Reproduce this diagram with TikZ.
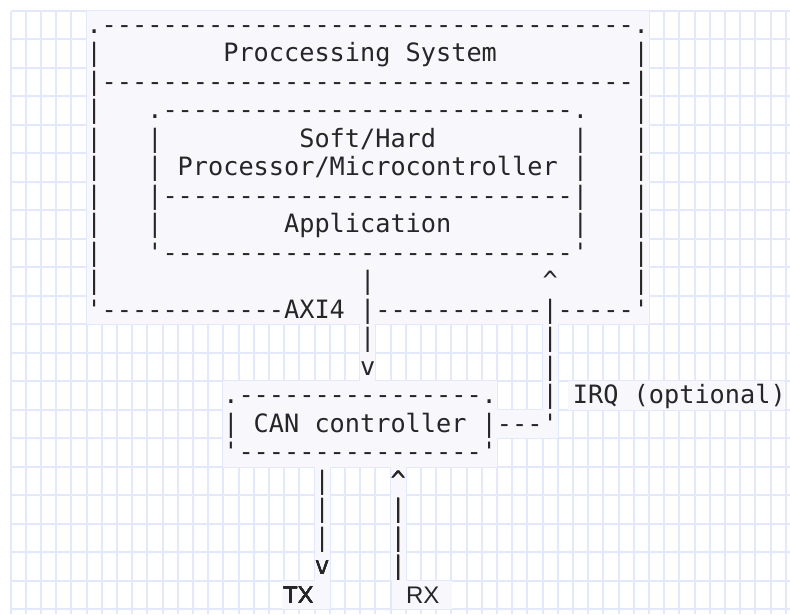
\documentclass[tikz,border=0pt]{standalone}
\usepackage{fontspec}
\setmonofont{DejaVu Sans Mono}
\newfontfamily\lblfont{Liberation Sans}

\definecolor{gridc}{HTML}{E2E9FF}
\definecolor{panel}{HTML}{F8F8FC}
\definecolor{ink}{HTML}{262626}

% one character cell is 15.2 x 28.5 units; columns start at x=10.5,
% the baseline of row 0 sits at y=33.25
\newcommand\putch[4]{\node[asc] (#1) at ({10.5+15.2*#2},{33.25+28.5*#3}) {#4};}
% light panel behind a block of cells: cols #1..#2, rows #3..#4
\newcommand\panelcells[4]{\fill[panel] ({10.5+15.2*#1},{10.5+28.5*#3}) rectangle ({10.5+15.2*(#2+1)},{10.5+28.5*(#4+1)});}

\begin{document}
\begin{tikzpicture}[x=1pt,y=-1pt,
  asc/.style={anchor=base west,inner sep=0pt,outer sep=0pt,text=ink,
    font=\ttfamily\fontsize{25.25}{28.5}\selectfont},
  lbl/.style={anchor=base west,inner sep=0pt,outer sep=0pt,text=ink,
    font=\lblfont\fontsize{24}{28}\selectfont},
  gridline/.style={draw=gridc,line width=2pt}]
\useasboundingbox (0,0) rectangle (790,614);
\fill[white] (0,0) rectangle (790,614);

% background grid
\foreach \k in {0,...,51} \draw[gridline] ({10.5+15.2*\k},10.5) -- ({10.5+15.2*\k},614);
\foreach \k in {0,...,21} \draw[gridline] (10.5,{10.5+28.5*\k}) -- (790,{10.5+28.5*\k});

% panels behind the text runs
\panelcells{5}{41}{0}{10}
\panelcells{23}{23}{11}{12}
\panelcells{35}{35}{11}{13}
\panelcells{14}{31}{13}{15}
\panelcells{32}{35}{14}{14}
\fill[panel] (568,{10.5+28.5*13}) rectangle (784,{10.5+28.5*14});
\panelcells{20}{20}{16}{19}
\panelcells{25}{25}{16}{19}
\fill[panel] (282,{10.5+28.5*20}) rectangle (330,{10.5+28.5*21});
\fill[panel] (392,{10.5+28.5*20}) rectangle (452,{10.5+28.5*21});

% Processing system block
\putch{psTop}{5}{0}{.-----------------------------------.}
\putch{psL1}{5}{1}{|}
\putch{psTitle}{14}{1}{Proccessing System}
\putch{psR1}{41}{1}{|}
\putch{psSep}{5}{2}{|-----------------------------------|}
\foreach \r in {3,...,9} {
  \putch{psL\r}{5}{\r}{|}
  \putch{psR\r}{41}{\r}{|}
}
\putch{cpuTop}{9}{3}{.---------------------------.}
\putch{cpuL4}{9}{4}{|}
\putch{cpuSoft}{19}{4}{Soft/Hard}
\putch{cpuR4}{37}{4}{|}
\putch{cpuL5}{9}{5}{|}
\putch{cpuProc}{11}{5}{Processor/Microcontroller}
\putch{cpuR5}{37}{5}{|}
\putch{cpuSep}{9}{6}{|---------------------------|}
\putch{cpuL7}{9}{7}{|}
\putch{cpuApp}{18}{7}{Application}
\putch{cpuR7}{37}{7}{|}
\putch{cpuBot}{9}{8}{'---------------------------'}
\putch{busA9}{23}{9}{|}
\putch{irqHead}{35}{9}{\textasciicircum}
\putch{psBotL}{5}{10}{'------------AXI4}
\putch{psBotR}{23}{10}{|-----------|-----'}

% AXI4 link and interrupt line
\putch{busA11}{23}{11}{|}
\putch{busHead}{23}{12}{v}
\putch{irq11}{35}{11}{|}
\putch{irq12}{35}{12}{|}
\putch{irq13}{35}{13}{|}
\putch{irqLabel}{37}{13}{IRQ (optional)}

% CAN controller block
\putch{canTop}{14}{13}{.----------------.}
\putch{canL}{14}{14}{|}
\putch{canName}{16}{14}{CAN controller}
\putch{canR}{31}{14}{|---'}
\putch{canBot}{14}{15}{'----------------'}

% TX / RX lines
\foreach \r in {16,17,18} \putch{tx\r}{20}{\r}{|}
\putch{txHead}{20}{19}{v}
\putch{rxHead}{25}{16}{\textasciicircum}
\foreach \r in {17,18,19} \putch{rx\r}{25}{\r}{|}
\node[lbl] (tx) at (283,603) {TX};
\node[lbl] (rx) at (406,603) {RX};
\end{tikzpicture}
\end{document}
